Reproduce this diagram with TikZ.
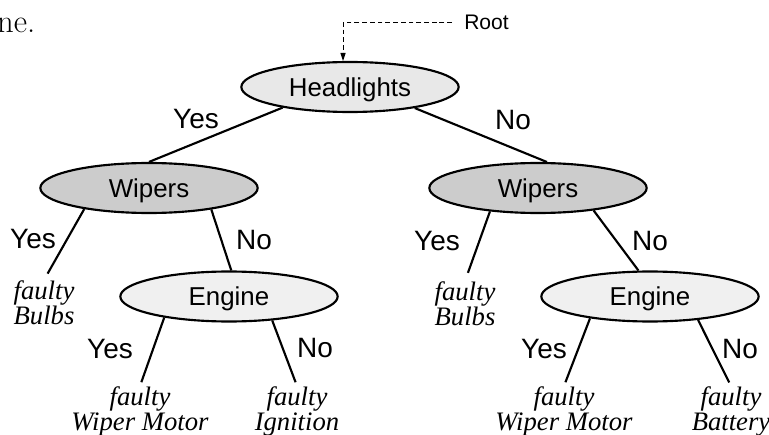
\documentclass[tikz,border=0pt]{standalone}
\usepackage{fontspec}
\newfontfamily\labelfont{Liberation Sans}
\newfontfamily\leaffont{Liberation Serif}
\usetikzlibrary{shapes.geometric,arrows.meta}

\definecolor{hlgray}{gray}{0.91}
\definecolor{wipergray}{gray}{0.80}
\definecolor{enginegray}{gray}{0.94}

\tikzset{
  decision/.style={ellipse, draw, line width=1.6pt, minimum width=163pt,
    minimum height=37.5pt, inner sep=0pt, text depth=0pt,
    font=\labelfont\fontsize{19.4}{22}\selectfont},
  answer/.style={inner sep=0pt, font=\labelfont\fontsize{21}{24}\selectfont},
  leaf/.style={inner sep=0pt, anchor=north, align=center,
    font=\leaffont\itshape\fontsize{20}{19.2}\selectfont},
  branch/.style={line width=1.6pt},
  rootline/.style={line width=0.8pt, dash pattern=on 3.6pt off 2.2pt,
    -{Triangle[length=6pt,width=3.8pt]}},
  rootlabel/.style={inner ysep=0pt, inner xsep=9pt, anchor=west,
    font=\labelfont\fontsize{15.8}{18}\selectfont}
}

\begin{document}
\begin{tikzpicture}[x=0.75pt,y=-0.75pt]
\useasboundingbox (0,0) rectangle (769,435);

% tail of the preceding sentence
\node[inner sep=0pt, anchor=base east, font=\fontsize{24.5}{28}\selectfont] (tail) at (35.5,33) {ne.};

% decision nodes
\node[decision, fill=hlgray] (hl) at (350,87) {Headlights};
\node[decision, fill=wipergray] (lw) at (149,188) {Wipers};
\node[decision, fill=wipergray] (rw) at (538,188) {Wipers};
\node[decision, fill=enginegray] (le) at (229,296.5) {Engine};
\node[decision, fill=enginegray] (re) at (650,296.5) {Engine};

% diagnoses at the leaves
\node[leaf] (lb) at (44,280) {faulty\\Bulbs};
\node[leaf] (rb) at (465,281) {faulty\\Bulbs};
\node[leaf] (lwm) at (140,386) {faulty\\Wiper Motor};
\node[leaf] (ign) at (297,386) {faulty\\Ignition};
\node[leaf] (rwm) at (564,386) {faulty\\Wiper Motor};
\node[leaf] (bat) at (731,386) {faulty\\Battery};

% branches
\draw[branch] (hl.197) -- (lw.north);
\draw[branch] (hl.342) -- (rw.71);
\draw[branch, shorten >=5.5pt] (lw.198) -- (lb.north);
\draw[branch] (lw.341) -- (le.85);
\draw[branch, shorten >=6.5pt] (rw.206) -- (rb.north);
\draw[branch] (rw.338) -- (re.114);
\draw[branch, shorten >=3pt] (le.198) -- (lwm.north);
\draw[branch, shorten >=3pt] (le.331) -- (ign.north);
\draw[branch, shorten >=3pt] (re.200) -- (rwm.north);
\draw[branch, shorten >=3pt] (re.334) -- (bat.north);

% branch labels
\node[answer] (y1) at (196,119) {Yes};
\node[answer] (n1) at (513,120) {No};
\node[answer] (y2) at (33,239) {Yes};
\node[answer] (n2) at (254,240) {No};
\node[answer] (y3) at (437,241) {Yes};
\node[answer] (n3) at (650,241) {No};
\node[answer] (y4) at (110,349) {Yes};
\node[answer] (n4) at (315,348) {No};
\node[answer] (y5) at (544,349) {Yes};
\node[answer] (n5) at (740,349) {No};

% root marker
\node[rootlabel] (root) at (452,22.5) {Root};
\draw[rootline] (root.west) -| (hl.105);
\end{tikzpicture}
\end{document}
